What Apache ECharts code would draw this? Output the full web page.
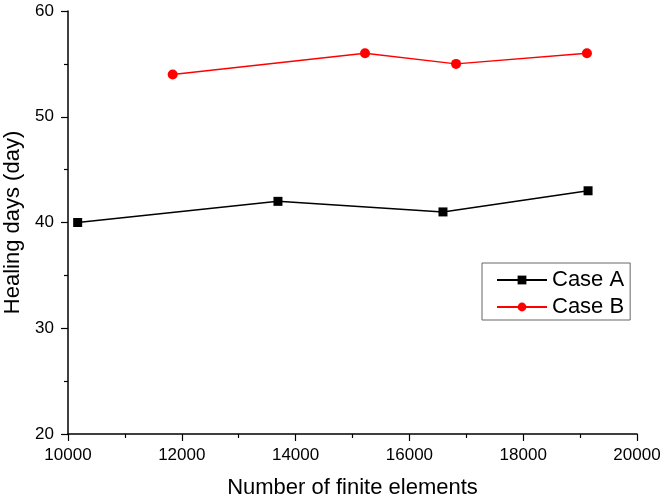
<!DOCTYPE html>
<html><head><meta charset="utf-8">
<script src="https://cdn.jsdelivr.net/npm/echarts@6/dist/echarts.min.js"></script>
<style>html,body{margin:0;padding:0;background:#fff}#c{width:666px;height:501px}</style>
</head><body><div id="c"></div>
<script>
const caseAX = [10170, 13690, 16590, 19140];
const caseAY = [40, 42, 41, 43];
const caseBX = [11840, 15220, 16820, 19120];
const caseBY = [54, 56, 55, 56];
const xLabel = 'Number of finite elements';
const yLabel = 'Healing days (day)';
const seriesNames = ['Case A', 'Case B'];

const chart = echarts.init(document.getElementById('c'));
const font = 'Liberation Sans, Arial, sans-serif';
const axisCommon = {
  axisLine: {show: true, lineStyle: {color: '#000', width: 1.5}},
  axisTick: {show: true, inside: false, length: 7, lineStyle: {color: '#000', width: 1.2}},
  minorTick: {show: true, splitNumber: 2, length: 4, lineStyle: {color: '#000', width: 1.2}},
  splitLine: {show: false},
  axisLabel: {color: '#000', fontSize: 17, fontFamily: font, formatter: v => String(v)},
  nameTextStyle: {color: '#000', fontSize: 22, fontFamily: font}
};
chart.setOption({
  animation: false,
  grid: {left: 68, right: 29, top: 11, bottom: 67, containLabel: false, outerBoundsMode: 'none'},
  xAxis: Object.assign({}, axisCommon, {
    type: 'value', min: 10000, max: 20000, interval: 2000,
    name: xLabel, nameLocation: 'middle', nameGap: 43,
    axisLabel: Object.assign({}, axisCommon.axisLabel, {margin: 13})
  }),
  yAxis: Object.assign({}, axisCommon, {
    type: 'value', min: 20, max: 60, interval: 10,
    name: yLabel, nameLocation: 'middle', nameGap: 44,
    axisLabel: Object.assign({}, axisCommon.axisLabel, {margin: 14})
  }),
  legend: {
    orient: 'vertical', left: 482, top: 263,
    borderColor: '#666', borderWidth: 1, padding: [6, 6, 2, 14],
    itemWidth: 50, itemHeight: 11, itemGap: 5,
    textStyle: {color: '#000', fontSize: 22, fontFamily: font, lineHeight: 22},
    data: seriesNames
  },
  series: [
    {name: seriesNames[0], type: 'line', symbol: 'rect', symbolSize: 9,
     itemStyle: {color: '#000'}, lineStyle: {color: '#000', width: 1.5},
     data: caseAX.map((x, i) => [x, caseAY[i]])},
    {name: seriesNames[1], type: 'line', symbol: 'circle', symbolSize: 10,
     itemStyle: {color: '#ff0000'}, lineStyle: {color: '#ff0000', width: 1.5},
     data: caseBX.map((x, i) => [x, caseBY[i]])}
  ]
});
</script></body></html>
